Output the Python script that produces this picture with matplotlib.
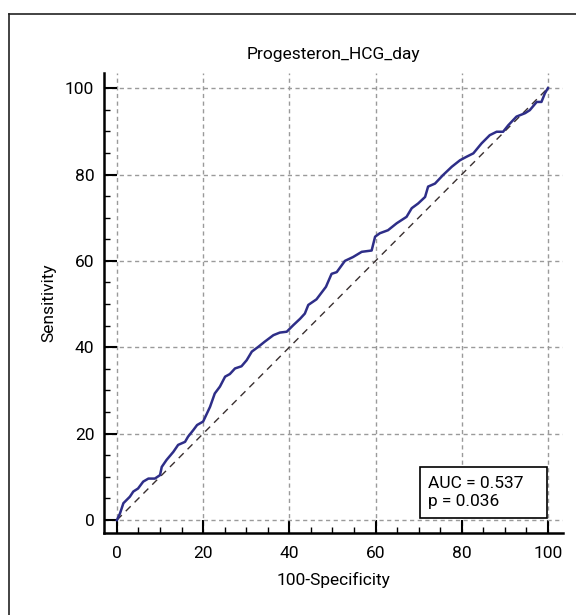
import matplotlib
matplotlib.use("Agg")
import matplotlib.pyplot as plt
from matplotlib.lines import Line2D
from matplotlib.patches import Rectangle
from matplotlib.ticker import MultipleLocator

plt.rcParams['font.family'] = ['Roboto', 'DejaVu Sans']

# ROC curve (100-Specificity, Sensitivity)
fpr = [0, 0.7, 1.5, 2.2, 3.0, 3.8, 4.9, 6.1, 7.3, 8.8, 10.0, 10.4, 11.5, 13.1,
       14.2, 15.8, 16.5, 17.7, 18.6, 20.0, 21.6, 22.7, 23.9, 25.1, 26.2, 27.4,
       28.9, 30.1, 31.3, 32.8, 34.3, 36.3, 37.8, 39.4, 40.9, 42.5, 43.6, 44.4,
       46.3, 48.5, 49.8, 51.0, 52.9, 54.8, 56.8, 59.1, 59.9, 61.0, 62.9, 64.9,
       67.2, 68.4, 69.9, 71.5, 72.2, 73.8, 75.7, 77.7, 79.6, 81.1, 82.7, 84.6,
       86.5, 88.1, 89.6, 90.8, 92.7, 94.7, 95.8, 97.4, 98.5, 99.3, 100]
tpr = [0, 1.5, 3.9, 4.6, 5.4, 6.6, 7.3, 8.9, 9.6, 9.6, 10.4, 12.3, 13.9, 15.8,
       17.4, 18.1, 19.3, 20.8, 22.0, 22.8, 26.2, 29.3, 30.9, 33.2, 33.8, 35.1,
       35.6, 37.0, 39.0, 40.1, 41.3, 42.8, 43.4, 43.6, 45.1, 46.6, 47.8, 49.8,
       51.1, 54.0, 57.0, 57.4, 60.0, 60.9, 62.1, 62.4, 65.6, 66.4, 67.1, 68.7,
       70.2, 72.2, 73.3, 74.8, 77.2, 77.9, 79.9, 81.8, 83.3, 84.1, 84.9, 87.2,
       89.1, 89.9, 89.9, 91.4, 93.4, 94.2, 94.9, 96.8, 96.8, 98.8, 100]
chance = [0, 100]

title = "Progesteron_HCG_day"
auc_text = "AUC = 0.537\np = 0.036"

fig = plt.figure(figsize=(5.76, 6.15), dpi=100)

# outer frame (left and top edges visible)
fig.add_artist(Line2D([9 / 576, 9 / 576], [0, 1 - 14 / 615], transform=fig.transFigure,
                      color='#222222', lw=1.2))
fig.add_artist(Line2D([9 / 576, 1], [1 - 14 / 615, 1 - 14 / 615], transform=fig.transFigure,
                      color='#222222', lw=1.2))

ax = fig.add_axes([104 / 576, 1 - 533 / 615, (563 - 104) / 576, (533 - 73) / 615])

ax.plot(chance, chance, color='#3a3030', lw=1.0, dashes=(5, 4), zorder=2)
ax.plot(fpr, tpr, color='#2e2e88', lw=1.8, zorder=3)

ax.set_xlim(-3, 103.5)
ax.set_ylim(-3, 103.5)
ax.xaxis.set_major_locator(MultipleLocator(20))
ax.yaxis.set_major_locator(MultipleLocator(20))
ax.xaxis.set_minor_locator(MultipleLocator(5))
ax.yaxis.set_minor_locator(MultipleLocator(5))
ax.set_xticks([0, 20, 40, 60, 80, 100])
ax.set_yticks([0, 20, 40, 60, 80, 100])

ax.grid(True, which='major', color='#9a9a9a', lw=1.0, dashes=(3, 2.5))
ax.set_axisbelow(True)

for s in ['top', 'right']:
    ax.spines[s].set_visible(False)
for s in ['left', 'bottom']:
    ax.spines[s].set_linewidth(1.8)

ax.tick_params(which='major', direction='in', length=9.4, width=1.5,
               labelsize=12.5, pad=7)
ax.tick_params(which='minor', direction='in', length=4.3, width=1.0)
ax.tick_params(axis='x', which='major', pad=9)

ax.set_title(title, fontsize=12.5, pad=10)
ax.set_xlabel("100-Specificity", fontsize=12.5, labelpad=8)
ax.set_ylabel("Sensitivity", fontsize=12.5, labelpad=6)

ax.add_patch(Rectangle((70.3, 0.5), 29.5, 11.8, facecolor='white', edgecolor='black',
                       lw=1.2, zorder=4))
ax.text(72.2, 6.4, auc_text, fontsize=12.5, va='center', ha='left',
        linespacing=1.3, zorder=5)

fig.savefig("out.png", dpi=100)
